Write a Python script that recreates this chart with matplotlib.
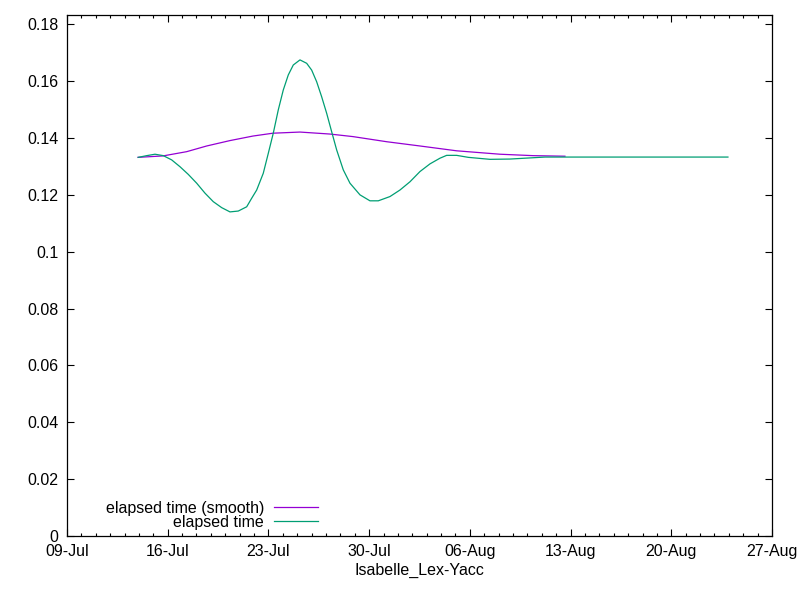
import matplotlib
matplotlib.use("Agg")
import matplotlib.pyplot as plt
import matplotlib.dates as mdates
import pandas as pd

start = pd.Timestamp("2019-07-09")

# elapsed time (x in days after 09-Jul)
elapsed_days = [4.955, 5.539, 6.115, 6.692, 7.276, 7.853, 8.429, 9.013, 9.590, 10.167,
                10.750, 11.327, 11.904, 12.488, 12.835, 13.183, 13.641, 13.989, 14.336, 14.684,
                15.031, 15.379, 15.726, 16.192, 16.657, 17.005, 17.352, 17.700, 18.047, 18.395,
                18.742, 19.201, 19.666, 20.361, 21.056, 21.633, 22.446, 23.141, 23.836, 24.531,
                25.226, 25.921, 26.386, 27.081, 27.888, 29.395, 30.785, 32.175, 33.217, 45.935]
elapsed = [0.1332, 0.1338, 0.1343, 0.1338, 0.1323, 0.1299, 0.1272, 0.1241, 0.1206, 0.1176,
           0.1155, 0.1140, 0.1143, 0.1158, 0.1188, 0.1217, 0.1276, 0.1346, 0.1417, 0.1499,
           0.1569, 0.1622, 0.1657, 0.1675, 0.1663, 0.1639, 0.1598, 0.1545, 0.1487, 0.1422,
           0.1358, 0.1288, 0.1241, 0.1200, 0.1179, 0.1179, 0.1194, 0.1217, 0.1246, 0.1282,
           0.1309, 0.1329, 0.1339, 0.1339, 0.1332, 0.1325, 0.1326, 0.1330, 0.1333, 0.1333]

# elapsed time (smooth)
smooth_days = [4.934, 6.671, 8.318, 9.708, 11.327, 12.926, 14.315, 16.192,
               18.277, 19.875, 22.217, 24.531, 27.081, 30.090, 32.383, 34.607]
smooth = [0.1332, 0.1337, 0.1352, 0.1372, 0.1391, 0.1407, 0.1417, 0.1421,
          0.1414, 0.1405, 0.1387, 0.1372, 0.1355, 0.1343, 0.1338, 0.1336]

tick_dates = pd.date_range("2019-07-09", "2019-08-27", freq="7D")
y_ticks = [0, 0.02, 0.04, 0.06, 0.08, 0.1, 0.12, 0.14, 0.16, 0.18]

plt.rcParams['font.family'] = ['Liberation Sans', 'DejaVu Sans']

fig = plt.figure(figsize=(8, 6), dpi=100)
ax = fig.add_axes([0.08375, 0.107, 0.8813, 0.868])

sx = start + pd.to_timedelta(smooth_days, unit='D')
ex = start + pd.to_timedelta(elapsed_days, unit='D')
ax.plot(sx, smooth, color='#9400D3', lw=0.9, label='elapsed time (smooth)')
ax.plot(ex, elapsed, color='#009E73', lw=0.9, label='elapsed time')

ax.set_xlim(tick_dates[0], tick_dates[-1])
ax.set_ylim(0, 0.1833)
ax.set_yticks(y_ticks)
ax.set_yticklabels([f"{v:g}" for v in y_ticks])

ax.set_xticks(tick_dates)
ax.xaxis.set_minor_locator(mdates.DayLocator())
ax.xaxis.set_major_formatter(mdates.DateFormatter("%d-%b"))

ax.tick_params(which='both', direction='in', top=True, right=True, labelsize=11.5, width=0.8, pad=6)
ax.tick_params(which='major', length=5)
ax.tick_params(which='minor', length=2.5)
ax.tick_params(axis='y', which='minor', left=False, right=False)
for s in ax.spines.values():
    s.set_linewidth(0.9)

ax.set_xlabel("Isabelle_Lex-Yacc", fontsize=11.5, labelpad=3)

ax.legend(loc='lower left', bbox_to_anchor=(0.039, -0.01), frameon=False, markerfirst=False,
          fontsize=11.5, handlelength=2.7, handletextpad=0.65, labelspacing=-0.05, borderpad=0.2)
leg = ax.get_legend()
for t in leg.get_texts():
    t.set_ha('right')
leg._legend_box.align = 'right'

fig.savefig("out.png", dpi=100)
